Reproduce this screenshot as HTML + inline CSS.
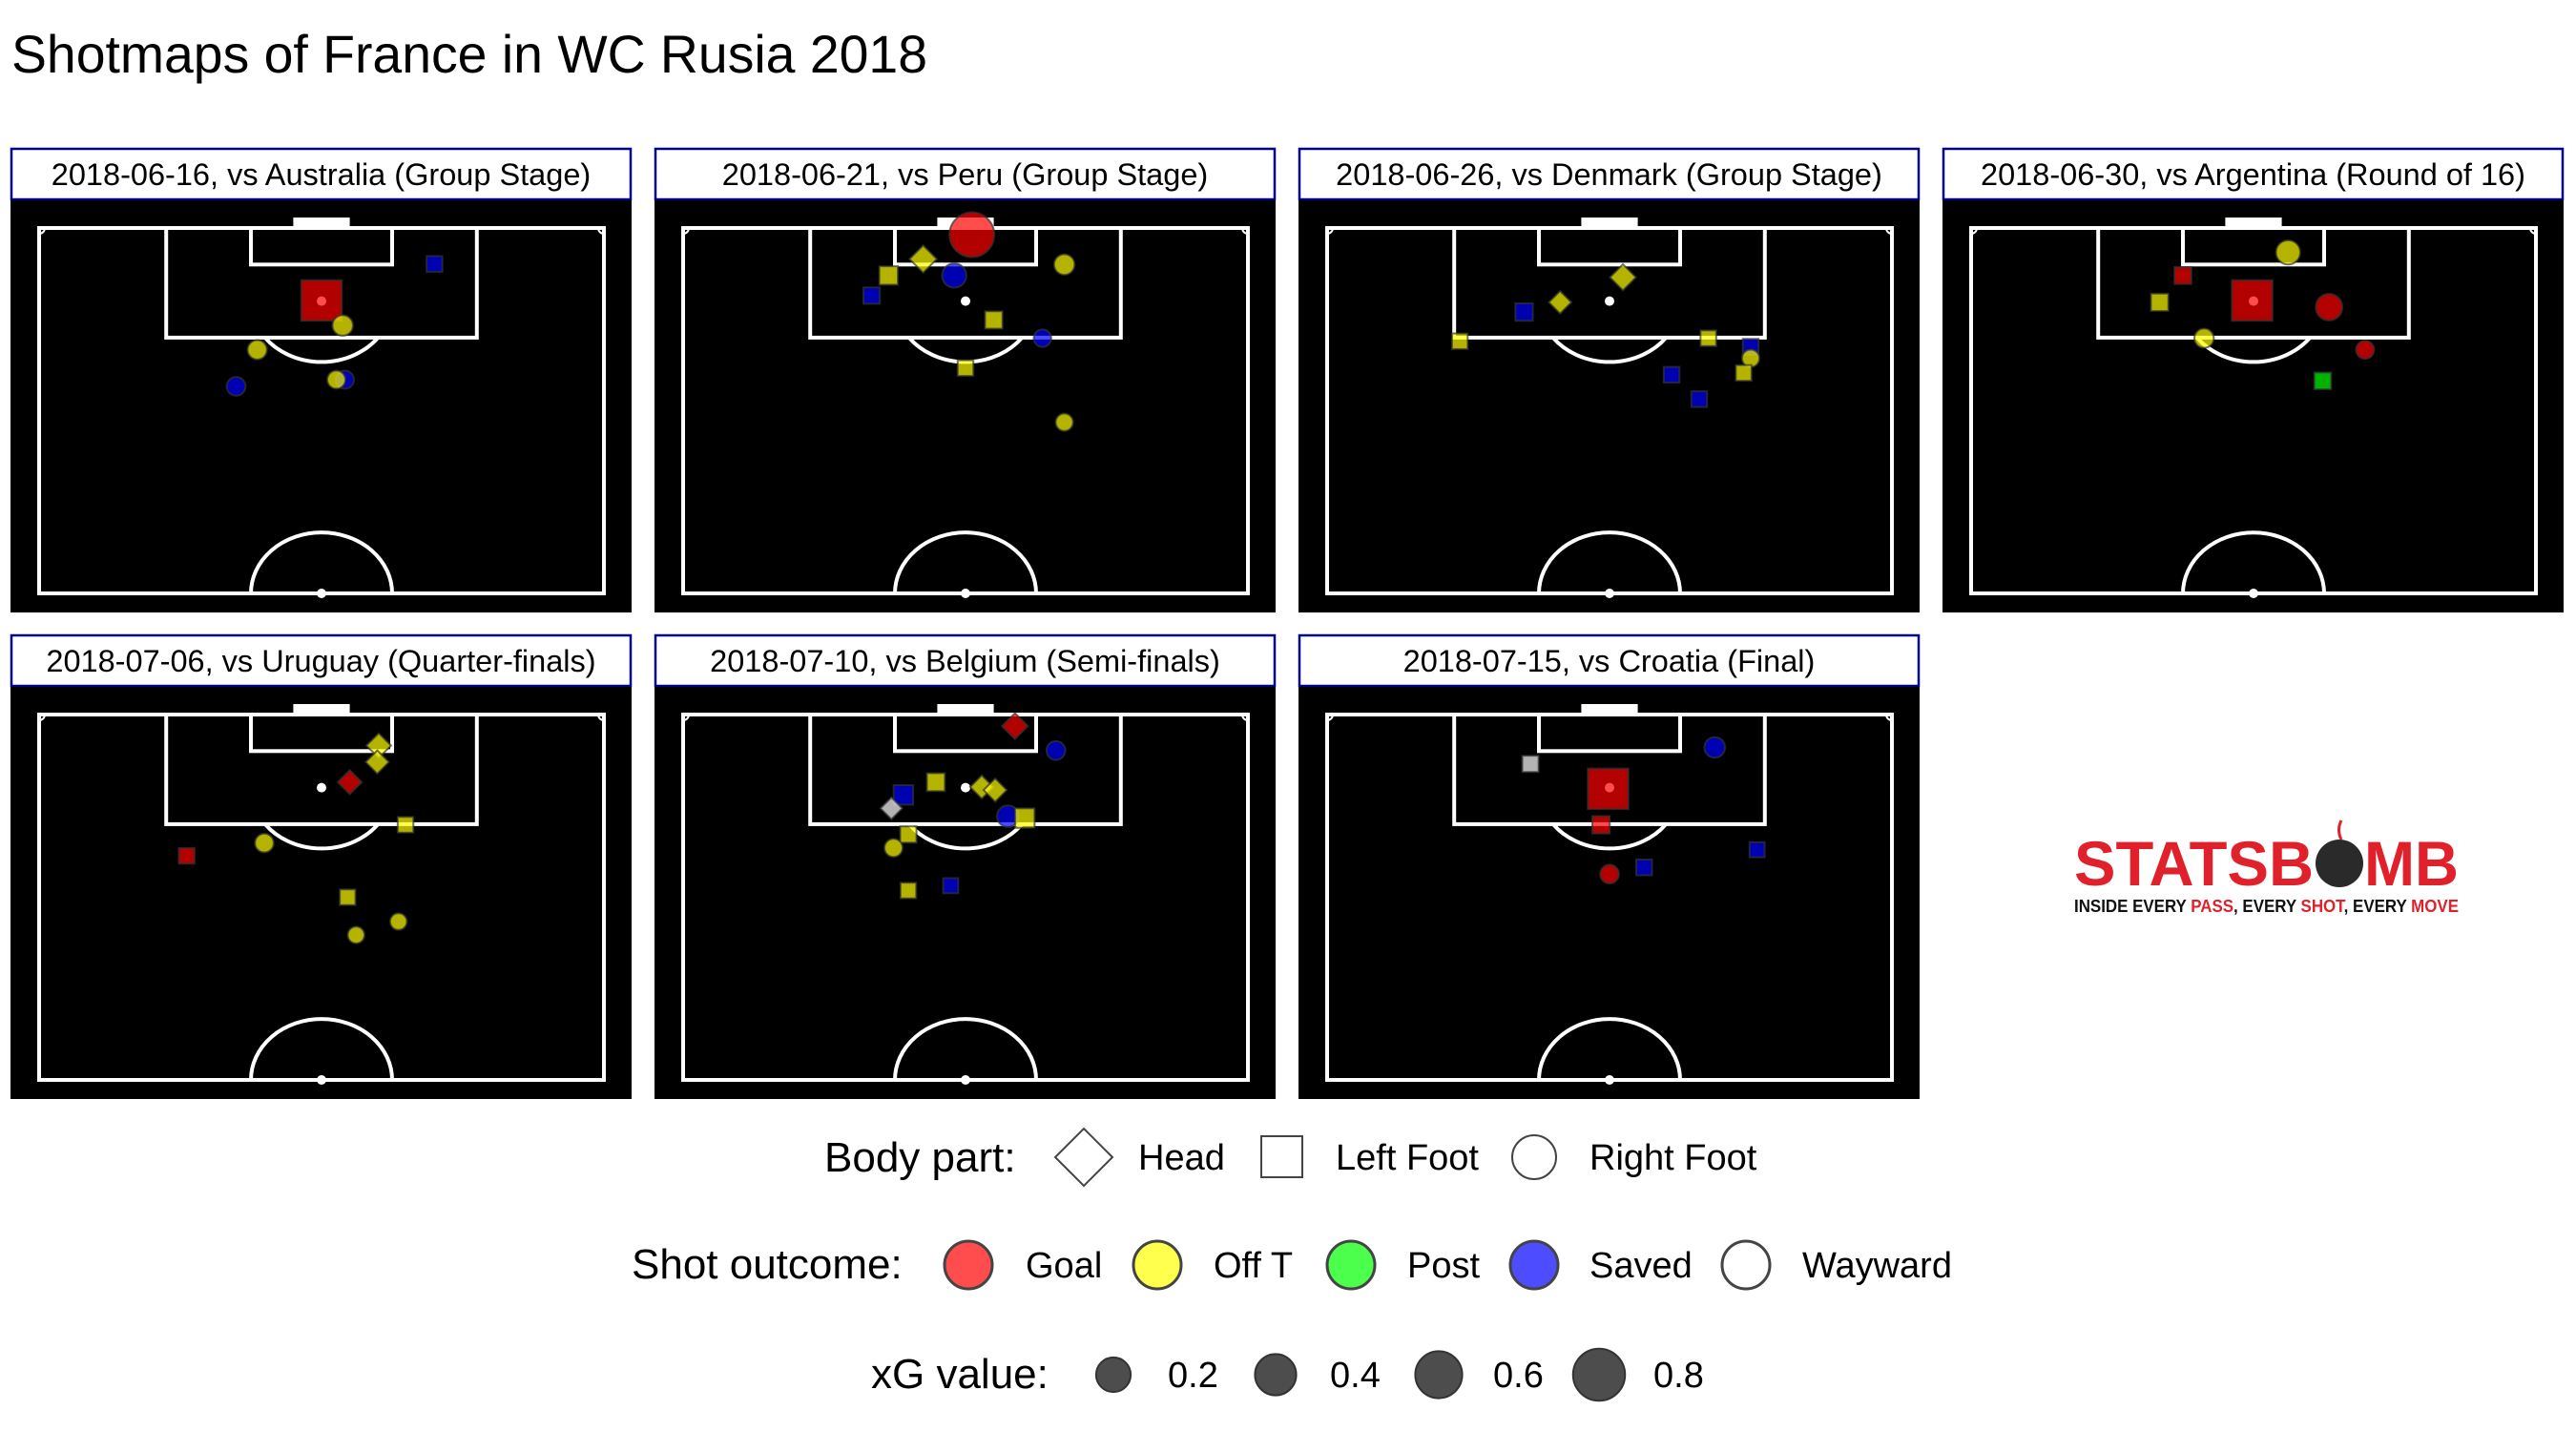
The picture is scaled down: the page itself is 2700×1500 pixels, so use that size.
<!DOCTYPE html>
<html><head><meta charset="utf-8"><style>
html,body{margin:0;padding:0;background:#fff}
svg{display:block}
text{font-family:"Liberation Sans",Arial,sans-serif}
</style></head><body>
<svg id="chart" width="2700" height="1500" viewBox="0 0 2700 1500" xmlns="http://www.w3.org/2000/svg">
<rect x="0" y="0" width="2700" height="1500" fill="#fff"/>
<text x="12" y="76" font-size="56" fill="#000" textLength="960" lengthAdjust="spacingAndGlyphs">Shotmaps of France in WC Rusia 2018</text>
<g id="panels"></g>
<g>
<text x="2174" y="928" font-size="66" font-weight="bold" fill="#e0202a" textLength="251" lengthAdjust="spacingAndGlyphs">STATSB</text>
<text x="2478" y="928" font-size="66" font-weight="bold" fill="#e0202a" textLength="99" lengthAdjust="spacingAndGlyphs">MB</text>
<circle cx="2452" cy="905" r="25" fill="#2a2a2a"/>
<path d="M2454 880 q-5 -10 0 -20" stroke="#e0202a" stroke-width="3" fill="none"/>
<text x="2174" y="956" font-size="18" font-weight="bold" textLength="403" lengthAdjust="spacingAndGlyphs"><tspan fill="#111">INSIDE EVERY </tspan><tspan fill="#e0202a">PASS</tspan><tspan fill="#111">, EVERY </tspan><tspan fill="#e0202a">SHOT</tspan><tspan fill="#111">, EVERY </tspan><tspan fill="#e0202a">MOVE</tspan></text>
</g>
<g id="legend">
<g>
<text x="864" y="1228" font-size="44">Body part:</text>
<polygon points="1136,1183 1166,1213 1136,1243 1106,1213" fill="#fff" stroke="#444" stroke-width="2"/>
<text x="1193" y="1226" font-size="38">Head</text>
<rect x="1322" y="1191" width="43" height="43" fill="#fff" stroke="#444" stroke-width="2"/>
<text x="1400" y="1226" font-size="38">Left Foot</text>
<circle cx="1608" cy="1213" r="23" fill="#fff" stroke="#444" stroke-width="2"/>
<text x="1666" y="1226" font-size="38">Right Foot</text>
</g>
<g>
<text x="662" y="1340" font-size="44">Shot outcome:</text>
<circle cx="1015" cy="1326" r="25" fill="#ff4d4d" stroke="#444" stroke-width="3"/>
<text x="1075" y="1339" font-size="38">Goal</text>
<circle cx="1213" cy="1326" r="25" fill="#ffff4d" stroke="#444" stroke-width="3"/>
<text x="1272" y="1339" font-size="38">Off T</text>
<circle cx="1416" cy="1326" r="25" fill="#4dff4d" stroke="#444" stroke-width="3"/>
<text x="1475" y="1339" font-size="38">Post</text>
<circle cx="1608" cy="1326" r="25" fill="#4d4dff" stroke="#444" stroke-width="3"/>
<text x="1666" y="1339" font-size="38">Saved</text>
<circle cx="1830" cy="1326" r="25" fill="#fff" stroke="#444" stroke-width="3"/>
<text x="1889" y="1339" font-size="38">Wayward</text>
</g>
<g id="xglegend">
<text x="913" y="1455" font-size="44">xG value:</text>
</g>
</g>
</svg>
<script>
const matchLabels = ["2018-06-16, vs Australia (Group Stage)","2018-06-21, vs Peru (Group Stage)","2018-06-26, vs Denmark (Group Stage)","2018-06-30, vs Argentina (Round of 16)","2018-07-06, vs Uruguay (Quarter-finals)","2018-07-10, vs Belgium (Semi-finals)","2018-07-15, vs Croatia (Final)"];
const shotMatch = [0,0,0,0,0,0,0, 1,1,1,1,1,1,1,1,1,1, 2,2,2,2,2,2,2,2,2,2, 3,3,3,3,3,3,3,3, 4,4,4,4,4,4,4,4,4, 5,5,5,5,5,5,5,5,5,5,5,5,5, 6,6,6,6,6,6,6];
const shotX = [114.1,108.1,104,100,94,95.1,95.1, 118.9,114.9,112.2,112.2,108.9,114,104.9,101.9,97,88.1, 111.9,107.8,106.2,101.4,101.9,100.5,98.6,95.9,96.2,91.9, 116,112.2,107.8,108.1,107,101.9,100,94.9, 114.9,112.2,108.9,101.9,98.9,96.8,90,86,83.8, 118.1,114.1,108.9,106.8,104.6,108.1,107.6,103.3,103,100.3,98.1,91.1,91.9, 114.6,111.9,107.8,101.9,97.8,94.9,93.8];
const shotY = [56,40,43,30.9,27.9,43.3,42.1, 40.9,34,29.1,38.4,26.7,54,44,50.9,40,54, 41.9,33,27.9,18.8,54,60,60,48.8,59,52.7, 44.9,30,26.7,39.8,50.7,33,55.8,49.8, 48.1,47.9,44,51.9,31.9,20.9,43.7,50.9,44.9, 47,52.8,35.8,31.2,29.5,42.3,44.2,46,48.4,31.9,29.8,31.9,37.9, 54.9,28.8,39.8,38.8,60.9,44.9,40];
const shotXg = [0.03,0.76,0.08,0.06,0.05,0.04,0.04, 0.75,0.12,0.08,0.15,0.04,0.08,0.06,0.03,0.03,0.03, 0.1,0.05,0.06,0.03,0.03,0.03,0.03,0.03,0.03,0.03, 0.15,0.05,0.06,0.76,0.2,0.06,0.04,0.05, 0.08,0.06,0.07,0.03,0.05,0.03,0.03,0.02,0.02, 0.1,0.05,0.07,0.1,0.04,0.06,0.06,0.1,0.1,0.04,0.04,0.03,0.02, 0.08,0.04,0.76,0.06,0.02,0.03,0.05];
const shotBody = ["L","L","R","R","R","R","R", "R","H","L","R","L","R","L","R","L","R", "H","H","L","L","L","L","R","L","L","L", "R","L","L","L","R","R","R","L", "H","H","H","L","R","L","L","R","R", "H","R","L","L","H","H","H","R","L","L","R","L","L", "R","L","L","L","L","L","R"];
const shotOutcome = ["Saved","Goal","Off T","Off T","Saved","Saved","Off T", "Goal","Off T","Off T","Saved","Saved","Off T","Off T","Saved","Off T","Off T", "Off T","Off T","Saved","Off T","Off T","Saved","Off T","Saved","Off T","Saved", "Off T","Goal","Off T","Goal","Goal","Off T","Goal","Post", "Off T","Off T","Goal","Off T","Off T","Goal","Off T","Off T","Off T", "Goal","Saved","Off T","Saved","Wayward","Off T","Off T","Saved","Off T","Off T","Off T","Off T","Saved", "Saved","Wayward","Goal","Goal","Saved","Saved","Goal"];
const legendXg = [0.2,0.4,0.6,0.8];
const legendXgLabels = ["0.2","0.4","0.6","0.8"];

const NS = "http://www.w3.org/2000/svg";
const colors = {"Goal":"#ff0000","Off T":"#ffff00","Post":"#00ff00","Saved":"#0000ff","Wayward":"#ffffff"};
function mk(tag, attrs, parent){const e=document.createElementNS(NS,tag);for(const k in attrs)e.setAttribute(k,attrs[k]);parent.appendChild(e);return e;}
function panelGeom(i){const c=i%4,r=Math.floor(i/4);const left=11+c*675,top=155+r*510;return {left,top,pl:left+30,pt:top+84,pw:592,ph:383};}
function sx(g,y){return g.pl+y/80*g.pw;}
function sy(g,x){return g.pt+(120-x)/60*g.ph;}
function shotR(xg){return Math.sqrt(64+650*xg);}
function legR(xg){return Math.sqrt(190+690*xg);}

const panels=document.getElementById('panels');
const panelGroups=[];
matchLabels.forEach((lab,i)=>{
  const g=panelGeom(i);
  const pg=mk('g',{},panels);
  
  
  const strip=mk('rect',{x:g.left+1,y:g.top+1,width:649,height:53,fill:'#fff',stroke:'#00008b','stroke-width':2.5},pg);
  
  
  const t=mk('text',{x:g.left+325.5,y:g.top+39,'font-size':32.5,'text-anchor':'middle',fill:'#000'},pg);
  t.textContent=lab;
  
  
  const bg=mk('rect',{x:g.left,y:g.top+55,width:651,height:432,fill:'#000'},pg);
  
  
  const L=mk('g',{stroke:'#fff','stroke-width':4,fill:'none'},pg);
  
  
  mk('rect',{x:g.pl,y:g.pt,width:g.pw,height:g.ph},L);
  mk('rect',{x:sx(g,18),y:g.pt,width:sx(g,62)-sx(g,18),height:sy(g,102)-g.pt},L);
  mk('rect',{x:sx(g,30),y:g.pt,width:sx(g,50)-sx(g,30),height:sy(g,114)-g.pt},L);
  mk('rect',{x:sx(g,36),y:g.pt-11,width:sx(g,44)-sx(g,36),height:11,fill:'#fff',stroke:'none'},L);
  const rx=10/80*g.pw, ry=10/60*g.ph;
  const cy=sy(g,108), by=sy(g,102), dy=by-cy, dx=rx*Math.sqrt(1-(dy/ry)*(dy/ry));
  mk('path',{d:`M${sx(g,40)-dx} ${by} A${rx} ${ry} 0 0 0 ${sx(g,40)+dx} ${by}`},L);
  mk('path',{d:`M${sx(g,40)-rx} ${sy(g,60)} A${rx} ${ry} 0 0 1 ${sx(g,40)+rx} ${sy(g,60)}`},L);
  mk('path',{d:`M${g.pl} ${g.pt+6} A6 6 0 0 0 ${g.pl+6} ${g.pt}`,'stroke-width':2},L);
  mk('path',{d:`M${g.pl+g.pw-6} ${g.pt} A6 6 0 0 0 ${g.pl+g.pw} ${g.pt+6}`,'stroke-width':2},L);
  mk('circle',{cx:sx(g,40),cy:sy(g,108),r:5,fill:'#fff',stroke:'none'},L);
  mk('circle',{cx:sx(g,40),cy:sy(g,60),r:5,fill:'#fff',stroke:'none'},L);
  panelGroups.push({g,pg});
});
function drawShape(parent,shape,cx,cy,r,fill,op,stroke){
  let e;
  if(shape==='L'){const s=r*0.9;e=mk('rect',{x:cx-s,y:cy-s,width:2*s,height:2*s},parent);}
  else if(shape==='H'){const s=r*1.2;e=mk('polygon',{points:`${cx},${cy-s} ${cx+s},${cy} ${cx},${cy+s} ${cx-s},${cy}`},parent);}
  else {e=mk('circle',{cx:cx,cy:cy,r:r},parent);}
  e.setAttribute('fill',fill);e.setAttribute('fill-opacity',op);
  e.setAttribute('stroke',stroke);e.setAttribute('stroke-width',2);e.setAttribute('stroke-opacity',0.7);
  return e;
}
for(let k=0;k<shotX.length;k++){
  const P=panelGroups[shotMatch[k]];
  const e=drawShape(P.pg,shotBody[k],sx(P.g,shotY[k]),sy(P.g,shotX[k]),shotR(shotXg[k]),colors[shotOutcome[k]],0.7,'#333');
  
  
}
const xl=document.getElementById('xglegend');
const xgCx=[1167,1337,1508,1676];
legendXg.forEach((v,i)=>{
  const c=mk('circle',{cx:xgCx[i],cy:1441,r:legR(v),fill:'#4d4d4d',stroke:'#333','stroke-width':2},xl);
  
  
  const t=mk('text',{x:xgCx[i]+57,y:1454,'font-size':38},xl);
  t.textContent=legendXgLabels[i];
  
  
});
</script>
</body></html>
